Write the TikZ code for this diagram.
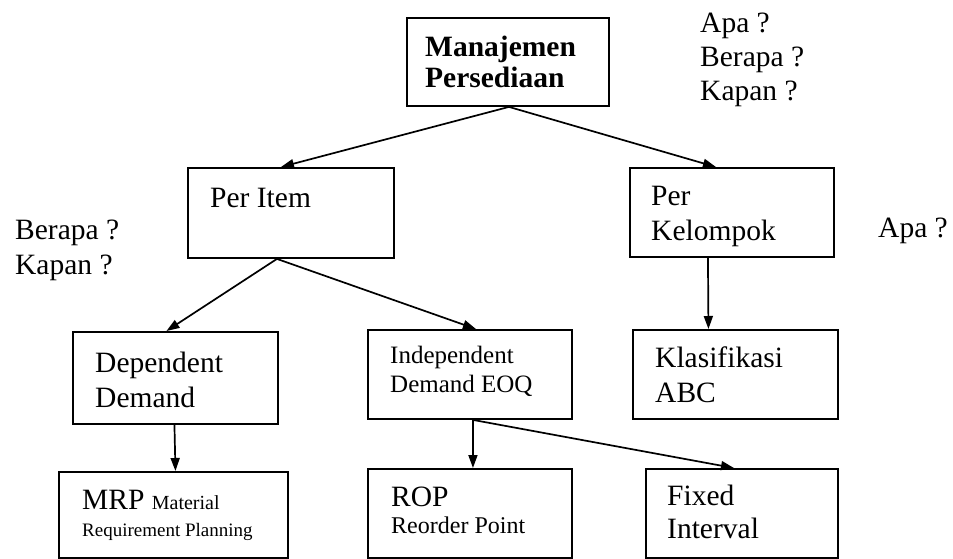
\documentclass[tikz,border=0pt]{standalone}
\usepackage{fontspec}
\setmainfont{Liberation Serif}
\usetikzlibrary{arrows.meta}
\begin{document}
\begin{tikzpicture}[x=1pt,y=-1pt,
  box/.style={draw=black,line width=1.9pt,rectangle,inner sep=0pt,anchor=north west},
  txt/.style={anchor=base west,inner sep=0pt,font=\fontsize{29.5}{35}\selectfont},
  btxt/.style={txt,font=\fontsize{29.5}{35}\selectfont\bfseries},
  stxt/.style={txt,font=\fontsize{25}{30}\selectfont},
  arr/.style={line width=1.7pt,-{Triangle[length=13pt,width=9pt]}}]
\useasboundingbox (0,0) rectangle (953,559);
% boxes
\node[box,minimum width=202pt,minimum height=88pt] (man) at (406,17) {};
\node[box,minimum width=206pt,minimum height=90pt] (item) at (187,167) {};
\node[box,minimum width=204pt,minimum height=89pt] (kel) at (629,167) {};
\node[box,minimum width=205pt,minimum height=92pt] (dep) at (72,331) {};
\node[box,minimum width=204pt,minimum height=89pt] (ind) at (367,329) {};
\node[box,minimum width=205pt,minimum height=89pt] (abc) at (632,329) {};
\node[box,minimum width=229pt,minimum height=86pt] (mrp) at (58,471) {};
\node[box,minimum width=204pt,minimum height=89pt] (rop) at (367,468) {};
\node[box,minimum width=192pt,minimum height=89pt] (fix) at (645,468) {};
% texts
\node[btxt] (t1) at (425,57) {Manajemen};
\node[btxt] (t2) at (425,88) {Persediaan};
\node[txt] (q1) at (700,33) {Apa ?};
\node[txt] (q2) at (700,67) {Berapa ?};
\node[txt] (q3) at (700,101) {Kapan ?};
\node[txt] (t3) at (210,207) {Per Item};
\node[txt] (q4) at (15,239) {Berapa ?};
\node[txt] (q5) at (15,274) {Kapan ?};
\node[txt] (t4) at (651,205) {Per};
\node[txt] (t5) at (651,240) {Kelompok};
\node[txt] (q6) at (878,237) {Apa ?};
\node[txt] (t6) at (95,372) {Dependent};
\node[txt] (t7) at (95,407) {Demand};
\node[stxt] (t8) at (390,363) {Independent};
\node[stxt] (t9) at (390,392) {Demand EOQ};
\node[txt] (t10) at (655,367) {Klasifikasi};
\node[txt] (t11) at (655,402) {ABC};
\node[txt] (t12) at (82,509) {MRP \fontsize{20}{24}\selectfont Material};
\node[txt,font=\fontsize{19}{23}\selectfont] (t13) at (82,536) {Requirement Planning};
\node[txt] (t14) at (391,506) {ROP};
\node[txt,font=\fontsize{24}{28}\selectfont] (t15) at (391,533) {Reorder Point};
\node[txt] (t16) at (667,505) {Fixed};
\node[txt] (t17) at (667,538) {Interval};
% connectors
\draw[arr] ([xshift=1pt]man.south) -- ([xshift=-10pt]item.north);
\draw[arr] ([xshift=1pt]man.south) -- ([xshift=-16pt]kel.north);
\draw[arr] ([xshift=-14pt]item.south) -- ([xshift=-9pt]dep.north);
\draw[arr] ([xshift=-14pt]item.south) -- ([xshift=6pt]ind.north);
\draw[arr] ([xshift=-24pt]kel.south) -- ([xshift=-27pt]abc.north);
\draw[arr] ([xshift=-1pt]dep.south) -- (dep.south |- mrp.north);
\draw[arr] ([xshift=3pt]ind.south) -- ([xshift=3pt]rop.north);
\draw[arr] ([xshift=3pt]ind.south) -- ([xshift=-8pt]fix.north);
\end{tikzpicture}
\end{document}
